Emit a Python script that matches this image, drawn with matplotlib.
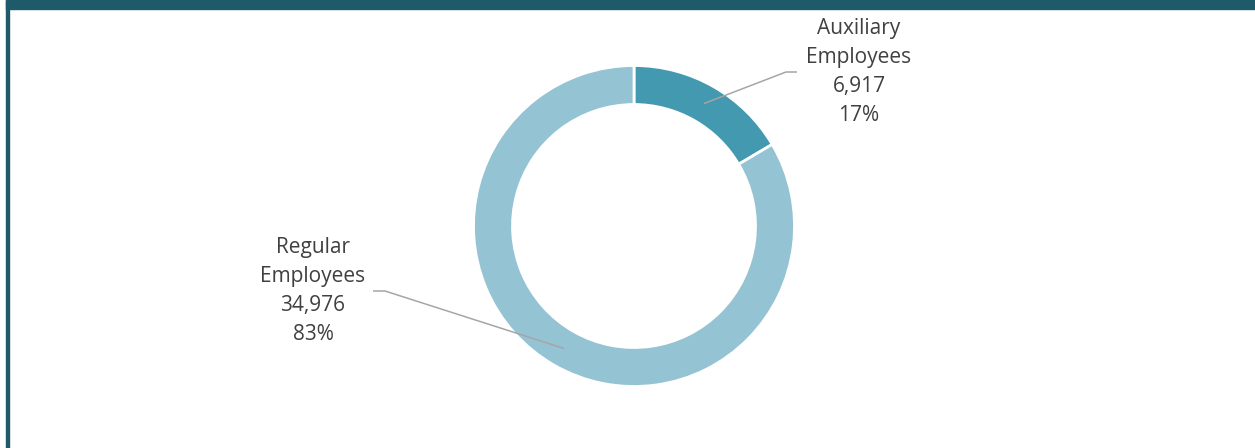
import numpy as np
import matplotlib.pyplot as plt
from matplotlib.patches import Rectangle

# data
categories = ['Auxiliary\nEmployees', 'Regular\nEmployees']
counts = [6917, 34976]
colors = ['#4399AF', '#94C3D4']

W, H = 1255, 448
fig = plt.figure(figsize=(W / 100, H / 100), dpi=100)
ax = fig.add_axes([0, 0, 1, 1])

# donut, coordinates in pixels (y measured from bottom)
cx, cy = 634, H - 226
r_out, ring = 160.5, 39
wedges, _ = ax.pie(counts, colors=colors, radius=r_out, center=(cx, cy),
                   startangle=90, counterclock=False,
                   wedgeprops=dict(width=ring, edgecolor='white', linewidth=2))

ax.set_xlim(0, W)
ax.set_ylim(0, H)
ax.set_aspect('equal')
ax.axis('off')

# frame: top bar + left rule
ax.add_patch(Rectangle((6, H - 9), W - 6, 9, color='#1F5A6A', clip_on=False))
ax.add_patch(Rectangle((6, 0), 2.5, H, color='#1F5A6A', clip_on=False))

total = sum(counts)
# label placement: (text center x, text center y, elbow x, line end x) in image px
label_pos = [(859, 72, 786, 797), (313, 291, 385, 373)]

for w, cat, n, (tx, ty, ex, lx) in zip(wedges, categories, counts, label_pos):
    ang = np.deg2rad((w.theta1 + w.theta2) / 2)
    rm = r_out - ring / 2
    px, py = cx + rm * np.cos(ang), cy + rm * np.sin(ang)
    ey = H - ty
    ax.plot([px, ex, lx], [py, ey, ey], color='#A6A6A6', lw=1.1,
            solid_capstyle='butt')
    pct = round(n / total * 100)
    ax.text(tx, H - ty, f'{cat}\n{n:,}\n{pct}%', ha='center', va='center',
            multialignment='center', fontsize=15, color='#404040',
            family='Open Sans', linespacing=1.5)

fig.savefig('out.png', dpi=100)
